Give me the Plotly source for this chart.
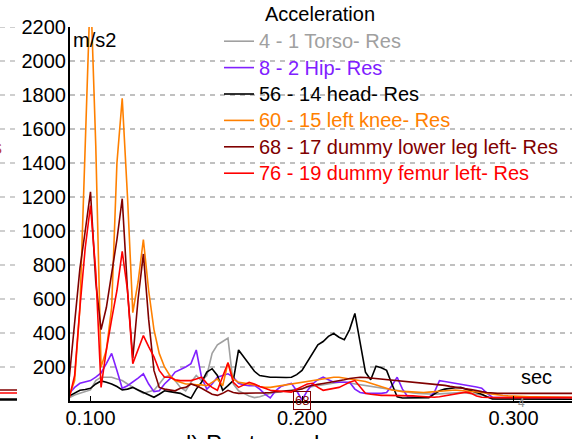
import plotly.graph_objects as go

# sample times (s), 2.5 ms sampling
t = [round(0.09 + 0.0025 * i, 4) for i in range(97)]

torso = [20, 35, 45, 55, 65, 120, 140, 140, 140, 130,
         120, 100, 80, 60, 45, 55, 63, 100, 140, 150,
         120, 80, 60, 110, 150, 120, 150, 280, 330, 350,
         370, 100, 60, 45, 30, 20, 25, 35, 45, 50,
         55, 60, 65, 70, 75, 80, 85, 90, 95, 100,
         105, 110, 110, 105, 100, 95, 90, 85, 80, 75,
         70, 65, 60, 55, 50, 48, 45, 42, 40, 40,
         42, 45, 48, 50, 50, 48, 45, 40, 35, 25,
         15, 10, 10, 10, 10, 10, 10, 10, 10, 10,
         10, 10, 10, 10, 10, 10, 10]

hip = [45, 80, 104, 110, 120, 140, 165, 220, 280, 180,
       75, 90, 110, 135, 160, 100, 55, 60, 100, 130,
       170, 185, 200, 220, 300, 140, 70, 100, 140, 150,
       160, 140, 104, 95, 90, 92, 70, 40, 18, 60,
       85, 95, 104, 60, 5, 60, 100, 125, 140, 125,
       110, 110, 110, 110, 70, 50, 45, 45, 45, 45,
       50, 90, 140, 70, 25, 22, 22, 22, 22, 50,
       120, 115, 110, 105, 100, 93, 88, 82, 75, 45,
       22, 20, 20, 20, 20, 20, 20, 20, 20, 20,
       20, 20, 20, 20, 20, 20, 20]

head = [30, 45, 63, 68, 75, 100, 118, 110, 100, 85,
        65, 70, 80, 65, 52, 35, 22, 40, 60, 55,
        48, 45, 30, 16, 70, 110, 170, 190, 150, 63,
        90, 120, 300, 260, 220, 175, 150, 145, 140, 140,
        138, 138, 140, 155, 180, 230, 280, 330, 350, 380,
        397, 375, 360, 420, 515, 330, 170, 125, 205, 195,
        180, 100, 25, 18, 18, 18, 18, 20, 20, 40,
        60, 70, 75, 78, 80, 70, 60, 52, 40, 25,
        12, 12, 12, 10, 10, 10, 10, 10, 10, 10,
        10, 10, 10, 10, 10, 10, 10]

left_knee = [30, 120, 550, 1550, 2450, 1500, 200, 300, 550, 1400,
             1780, 1200, 520, 700, 950, 650, 420, 280, 200, 150,
             120, 110, 100, 100, 95, 95, 90, 110, 130, 90,
             225, 130, 110, 105, 100, 95, 85, 80, 80, 85,
             90, 95, 100, 105, 110, 115, 120, 125, 130, 135,
             140, 140, 135, 130, 125, 120, 115, 105, 95, 85,
             75, 65, 60, 55, 55, 52, 50, 50, 52, 55,
             58, 60, 62, 65, 62, 60, 58, 55, 50, 45,
             40, 35, 32, 30, 28, 27, 26, 25, 25, 24,
             24, 23, 23, 22, 22, 22, 21]

lower_leg = [140, 480, 780, 1000, 1230, 700, 420, 550, 750, 950,
             1190, 650, 250, 600, 865, 480, 180, 80, 70, 65,
             60, 75, 80, 100, 90, 75, 55, 40, 33, 45,
             63, 50, 45, 45, 45, 45, 45, 48, 50, 55,
             55, 60, 60, 65, 70, 85, 93, 98, 103, 108,
             112, 118, 125, 132, 138, 140, 138, 135, 133, 130,
             127, 122, 120, 117, 115, 112, 110, 107, 104, 102,
             98, 92, 86, 80, 76, 72, 68, 60, 55, 50,
             46, 45, 45, 45, 45, 45, 45, 45, 45, 45,
             45, 45, 45, 45, 45, 45, 45]

femur = [20, 150, 550, 900, 1150, 760, 80, 300, 480, 650,
         880, 650, 220, 300, 385, 320, 260, 180, 140, 140,
         125, 120, 120, 120, 130, 140, 104, 80, 63, 140,
         225, 110, 80, 95, 110, 100, 85, 75, 63, 60,
         58, 55, 52, 70, 85, 100, 104, 80, 63, 70,
         75, 80, 95, 110, 120, 80, 45, 40, 36, 33,
         33, 33, 33, 33, 33, 30, 28, 25, 22, 22,
         25, 30, 35, 40, 45, 52, 45, 30, 22, 20,
         20, 20, 20, 20, 20, 20, 20, 20, 20, 20,
         20, 20, 20, 20, 20, 20, 20]

names = ["4 - 1 Torso- Res", "8 - 2 Hip- Res", "56 - 14 head- Res",
         "60 - 15 left knee- Res", "68 - 17 dummy lower leg left- Res",
         "76 - 19 dummy femur left- Res"]
colors = ["#a0a0a0", "#8020ff", "#000000", "#ff8000", "#800000", "#ff0000"]
values = [torso, hip, head, left_knee, lower_leg, femur]

y_ticks = [200, 400, 600, 800, 1000, 1200, 1400, 1600, 1800, 2000, 2200]
x_ticks = [0.1, 0.2, 0.3]
x_range = [0.09031, 0.32766]

FONT = "Arial, 'Liberation Sans', sans-serif"
W, H = 572, 439
L, R, T, B = 70, 0, 27, 38
PW = W - L - R
PH = H - T - B


def px_x(p):
    return (p - L) / PW


def px_y(p):
    return (H - B - p) / PH


fig = go.Figure()
for n, v, c in zip(names, values, colors):
    fig.add_trace(go.Scatter(
        x=t, y=v, mode="lines",
        name=f"<span style='color:{c};font-size:20px'>{n}</span>",
        line=dict(color=c, width=1.6),
    ))

shapes = []
# gridlines continuing to the left of the labels
for yv in y_ticks:
    shapes.append(dict(type="line", xref="paper", yref="y",
                       x0=px_x(0), x1=px_x(16), y0=yv, y1=yv,
                       line=dict(color="#c0c0c0", width=1.5, dash="5px,5px"),
                       layer="below"))
# fragments of neighbouring chart at bottom left
for yy, c, w in [(390, "#800000", 1.5), (393, "#ff0000", 1.5), (399.5, "#000000", 2.5)]:
    shapes.append(dict(type="line", xref="paper", yref="paper",
                       x0=px_x(0), x1=px_x(17), y0=px_y(yy), y1=px_y(yy),
                       line=dict(color=c, width=w)))

annotations = [
    dict(text="Acceleration", xref="paper", yref="paper", x=px_x(320), y=px_y(14),
         xanchor="center", yanchor="middle", showarrow=False, font=dict(size=20, color="black")),
    dict(text="m/s2", xref="paper", yref="paper", x=px_x(71), y=px_y(40),
         xanchor="left", yanchor="middle", showarrow=False, font=dict(size=20, color="black")),
    dict(text="sec", xref="paper", yref="paper", x=px_x(536), y=px_y(377),
         xanchor="center", yanchor="middle", showarrow=False, font=dict(size=20, color="black")),
    dict(text="d) Pontoon shape", xref="paper", yref="paper", x=px_x(176), y=px_y(443),
         xanchor="left", yanchor="middle", showarrow=False, font=dict(size=24, color="black")),
    dict(text="h", xref="paper", yref="paper", x=px_x(6), y=px_y(443),
         xanchor="right", yanchor="middle", showarrow=False, font=dict(size=24, color="black")),
    dict(text="s", xref="paper", yref="paper", x=px_x(4), y=px_y(147),
         xanchor="right", yanchor="middle", showarrow=False, font=dict(size=20, color="#c04040")),
    dict(text="68", xref="x", yref="paper", x=0.2, y=px_y(400),
         xanchor="center", yanchor="middle", showarrow=False,
         font=dict(size=13, color="#800000"), bordercolor="#800000", borderwidth=1, borderpad=1),
    dict(text="4", xref="x", yref="paper", x=0.304, y=px_y(403),
         xanchor="center", yanchor="middle", showarrow=False, font=dict(size=12, color="#909090")),
]

fig.update_layout(
    width=W, height=H,
    margin=dict(l=L, r=R, t=T, b=B, pad=0),
    paper_bgcolor="white", plot_bgcolor="white",
    font=dict(family=FONT, size=20, color="black"),
    showlegend=True,
    legend=dict(x=px_x(219), y=px_y(23), xanchor="left", yanchor="top",
                bgcolor="rgba(0,0,0,0)", borderwidth=0,
                font=dict(family=FONT, size=18, color="black"),
                tracegroupgap=0),
    xaxis=dict(range=x_range, tickvals=x_ticks, tickformat=".3f",
               showline=True, linecolor="black", linewidth=2,
               ticks="inside", ticklen=5, tickcolor="black", tickwidth=1,
               showgrid=False, zeroline=False, tickfont=dict(size=20),
               ticklabelstandoff=-2),
    yaxis=dict(range=[0, 2200], tickvals=y_ticks,
               showline=True, linecolor="black", linewidth=2,
               ticks="", ticklen=0, showgrid=True, gridcolor="#c0c0c0", gridwidth=1.5,
               griddash="5px,5px", zeroline=False, tickfont=dict(size=20),
               ticklabelstandoff=-2),
    shapes=shapes,
    annotations=annotations,
)

fig.write_html("out.html")
